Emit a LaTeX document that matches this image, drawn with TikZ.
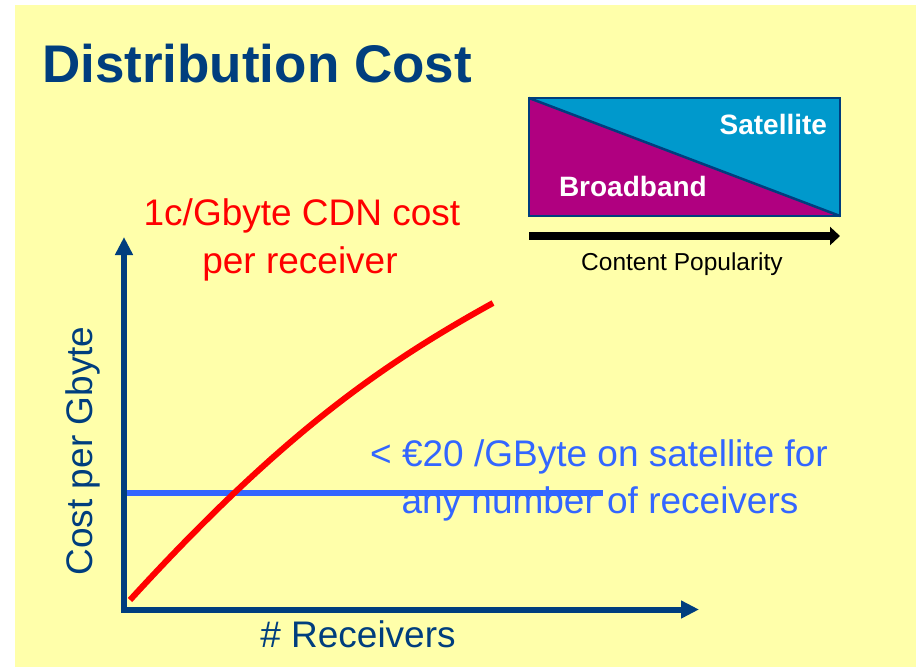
\documentclass[tikz,border=0pt]{standalone}
\usepackage{fontspec}
\setmainfont{Liberation Sans}
\usetikzlibrary{arrows.meta}
\definecolor{bgyellow}{RGB}{255,255,170}
\definecolor{darkblue}{RGB}{0,62,126}
\definecolor{linered}{RGB}{255,0,0}
\definecolor{lineblue}{RGB}{51,102,255}
\definecolor{magentafill}{RGB}{176,0,128}
\definecolor{satblue}{RGB}{0,153,204}
\tikzset{
  txt/.style={inner sep=0pt, outer sep=0pt},
  body/.style={txt, font=\fontsize{37}{44}\selectfont},
  axis/.style={line width=6pt, darkblue, -{Triangle[length=18pt,width=17pt]}},
}
\begin{document}
\begin{tikzpicture}[x=1pt,y=-1pt]
\useasboundingbox (0,0) rectangle (916,667);
\fill[white] (0,0) rectangle (916,667);
\fill[bgyellow] (15,5) rectangle (916,667);

% title
\node[txt, anchor=base west, text=darkblue, font=\fontsize{53}{60}\selectfont\bfseries] (title) at (42,82) {Distribution Cost};

% inset box
\coordinate (bTL) at (529,98);
\coordinate (bTR) at (840,98);
\coordinate (bBR) at (840,216);
\coordinate (bBL) at (529,216);
\fill[magentafill] (bTL) -- (bBR) -- (bBL) -- cycle;
\fill[satblue] (bTL) -- (bTR) -- (bBR) -- cycle;
\draw[darkblue, line width=2.5pt] (bTL) -- (bBR);
\draw[darkblue, line width=2.5pt] (bTL) rectangle (bBR);
\node[txt, anchor=base east, text=white, font=\fontsize{28}{33}\selectfont\bfseries] (sat) at (827,134) {Satellite};
\node[txt, anchor=base west, text=white, font=\fontsize{28}{33}\selectfont\bfseries] (bb) at (559,196) {Broadband};
\coordinate (popA) at (529,236);
\coordinate (popB) at (840,236);
\draw[line width=8pt, black, -{Triangle[length=10pt,width=18pt]}] (popA) -- (popB);
\node[txt, anchor=base, font=\fontsize{24.5}{29}\selectfont] (pop) at (682,270) {Content Popularity};

% axes
\coordinate (origin) at (124,612.5);
\coordinate (ytop) at (124,237);
\coordinate (xorig) at (121,609.5);
\coordinate (xend) at (699,609.5);
\draw[axis] (origin) -- (ytop);
\draw[axis] (xorig) -- (xend);
\node[body, anchor=base, rotate=90, text=darkblue] (ylab) at (92,451) {Cost per Gbyte};
\node[body, anchor=base, text=darkblue] (xlab) at (358,647) {\# Receivers};

% satellite cost line
\coordinate (satA) at (127,493);
\coordinate (satB) at (603,493);
\draw[lineblue, line width=6pt] (satA) -- (satB);

% CDN curve
\coordinate (cdnA) at (130,600);
\coordinate (cdnB) at (493,303);
\draw[linered, line width=6pt] (cdnA) .. controls (280,436) and (379,366) .. (cdnB);

% labels
\node[body, anchor=base, text=linered] (cdn1) at (302,225) {1c/Gbyte CDN cost};
\node[body, anchor=base, text=linered] (cdn2) at (300,273) {per receiver};
\node[body, anchor=base, text=lineblue] (sat1) at (599,466) {< €20 /GByte on satellite for};
\node[body, anchor=base, text=lineblue] (sat2) at (600,513) {any number of receivers};
\end{tikzpicture}
\end{document}
